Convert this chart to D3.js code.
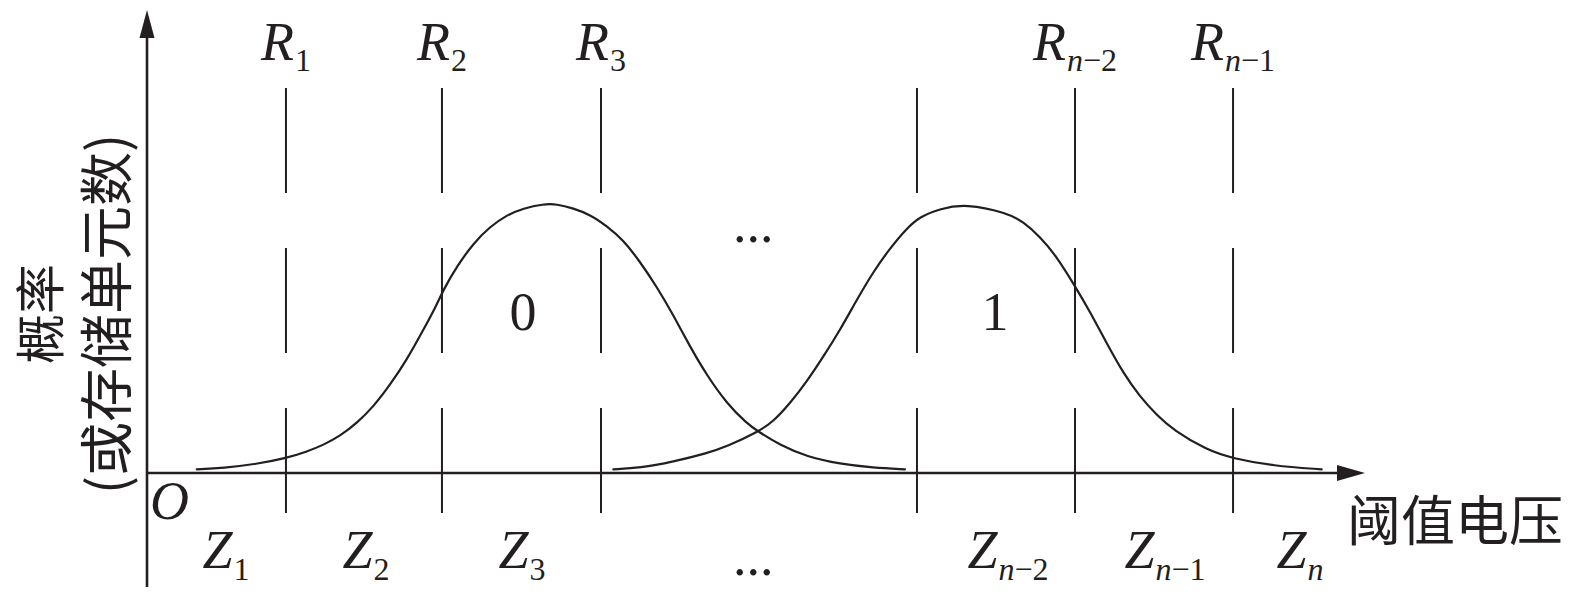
<!DOCTYPE html>
<html>
<head>
<meta charset="utf-8">
<script src="https://cdn.jsdelivr.net/npm/d3@7/dist/d3.min.js"></script>
<style>
  html, body { margin: 0; padding: 0; background: #fff; }
  svg { display: block; }
</style>
</head>
<body>
<svg id="chart" width="1575" height="602"></svg>
<script>
// ---------------- DATA ----------------
// Read-threshold boundaries (threshold-voltage units)
const boundaries      = [1.369, 2.906, 4.473, 7.586, 9.143, 10.700];
const boundarySubs    = ["1", "2", "3", "", "n−2", "n−1"];
// Zone label centres
const zoneCenters     = [0.778, 2.158, 3.695, 8.483, 10.030, 11.360];
const zoneSubs        = ["1", "2", "3", "n−2", "n−1", "n"];
// State distributions
const stateLabels     = ["0", "1"];
const stateLabelX     = [3.704, 8.355];
const curve0V = [0.490, 0.752, 1.081, 1.367, 1.573, 1.737, 1.901, 2.066, 2.230, 2.394, 2.559, 2.722, 2.854, 2.919, 3.051, 3.215, 3.379, 3.544, 3.708, 3.904, 4.036, 4.200, 4.365, 4.529, 4.693, 4.857, 5.022, 5.185, 5.350, 5.514, 5.711, 5.908, 6.023, 6.236, 6.500, 6.828, 7.156, 7.468];
const curve0P = [0.0137, 0.0186, 0.0334, 0.0546, 0.0791, 0.1040, 0.1374, 0.1846, 0.2463, 0.3269, 0.4198, 0.5312, 0.6241, 0.6798, 0.7664, 0.8533, 0.9149, 0.9584, 0.9833, 0.9993, 0.9993, 0.9833, 0.9600, 0.9180, 0.8655, 0.7849, 0.6921, 0.5869, 0.4692, 0.3640, 0.2589, 0.1846, 0.1534, 0.1040, 0.0606, 0.0334, 0.0197, 0.0137];
const curve1V = [4.594, 4.857, 5.185, 5.514, 5.711, 6.023, 6.170, 6.335, 6.500, 6.663, 6.828, 6.992, 7.156, 7.320, 7.485, 7.616, 7.813, 8.069, 8.470, 8.633, 8.798, 8.963, 9.126, 9.291, 9.455, 9.619, 9.783, 9.948, 10.111, 10.440, 10.693, 11.097, 11.573];
const curve1P = [0.0137, 0.0186, 0.0420, 0.0732, 0.0977, 0.1534, 0.1906, 0.2589, 0.3392, 0.4320, 0.5312, 0.6426, 0.7478, 0.8347, 0.9090, 0.9521, 0.9820, 1.0000, 0.9669, 0.9335, 0.8778, 0.8035, 0.7047, 0.5992, 0.4818, 0.3704, 0.2834, 0.2155, 0.1597, 0.0854, 0.0546, 0.0260, 0.0137];
const ellipsisX       = [5.973];
const xAxisTitle      = "阈值电压";
const yAxisTitle      = ["概率", "(或存储单元数)"];
const originLabel     = "O";

// ---------------- LAYOUT ----------------
const INK = "#231f20";
const SERIF = "'Liberation Serif', 'Times New Roman', serif";
const CJK = "'Noto Sans CJK SC', 'Noto Sans', sans-serif";

const x = d3.scaleLinear().domain([0, 12]).range([147, 1365]);
const y = d3.scaleLinear().domain([0, 1.72]).range([473, 10]);

const svg = d3.select("#chart");

// dashed boundary lines
svg.append("g").selectAll("line").data(boundaries).join("line")
  .attr("x1", d => x(d)).attr("x2", d => x(d))
  .attr("y1", 88).attr("y2", 513)
  .attr("stroke", INK).attr("stroke-width", 2)
  .attr("stroke-dasharray", "105,55");

// curves
const line = d3.line()
  .x(d => x(d[0])).y(d => y(d[1]))
  .curve(d3.curveBasis);
[[curve0V, curve0P], [curve1V, curve1P]].forEach(([vs, ps]) => {
  svg.append("path")
    .datum(vs.map((v, i) => [v, ps[i]]))
    .attr("d", line)
    .attr("fill", "none")
    .attr("stroke", INK)
    .attr("stroke-width", 2.2)
    .attr("stroke-linecap", "round");
});

// axes
const x0 = x(0), y0 = y(0);
const yTop = y(1.72), yBot = 587, xEnd = x(12);
svg.append("line").attr("x1", x0).attr("x2", x0).attr("y1", yBot).attr("y2", yTop + 20)
  .attr("stroke", INK).attr("stroke-width", 2.6);
svg.append("path").attr("d", `M${x0},${yTop} L${x0 - 7.5},${yTop + 28} L${x0 + 7.5},${yTop + 28} Z`)
  .attr("fill", INK);
svg.append("line").attr("x1", x0).attr("x2", xEnd - 20).attr("y1", y0).attr("y2", y0)
  .attr("stroke", INK).attr("stroke-width", 2.6);
svg.append("path").attr("d", `M${xEnd},${y0} L${xEnd - 28},${y0 - 8} L${xEnd - 28},${y0 + 8} Z`)
  .attr("fill", INK);

// subscripted italic label helper
function symLabel(g, main, sub, cx, baseY, subDy) {
  const t = g.append("text")
    .attr("x", cx).attr("y", baseY)
    .attr("text-anchor", "middle")
    .attr("font-family", SERIF).attr("fill", INK);
  t.append("tspan").attr("font-size", 54).attr("font-style", "italic").text(main);
  if (sub) {
    let first = true;
    const parts = sub.startsWith("n") ? [["n", true], [sub.slice(1), false]] : [[sub, false]];
    parts.forEach(([s, it]) => {
      if (!s) return;
      const ts = t.append("tspan").attr("font-size", 32).attr("font-style", it ? "italic" : "normal").text(s);
      if (first) { ts.attr("dy", subDy); ts.attr("dx", 1); first = false; }
    });
  }
}

const gLab = svg.append("g");
boundaries.forEach((b, i) => {
  if (boundarySubs[i]) symLabel(gLab, "R", boundarySubs[i], x(b), 60, 11);
});
zoneCenters.forEach((c, i) => symLabel(gLab, "Z", zoneSubs[i], x(c), 568, 12));

// state labels
gLab.selectAll(".state").data(stateLabels).join("text")
  .attr("class", "state")
  .attr("x", (d, i) => x(stateLabelX[i])).attr("y", 330)
  .attr("text-anchor", "middle")
  .attr("font-family", SERIF).attr("font-size", 54).attr("fill", INK)
  .text(d => d);

// ellipses
[242, 575].forEach(by => {
  gLab.append("text").attr("x", x(ellipsisX[0])).attr("y", by)
    .attr("text-anchor", "middle").attr("font-family", SERIF)
    .attr("font-size", 54).attr("fill", INK).text("...");
});

// origin
gLab.append("text").attr("x", x0 + 3).attr("y", 519)
  .attr("font-family", SERIF).attr("font-style", "italic")
  .attr("font-size", 54).attr("fill", INK).text(originLabel);

// x axis title
gLab.append("text").attr("x", 1347).attr("y", 517)
  .attr("dominant-baseline", "central")
  .attr("font-family", CJK).attr("font-size", 54).attr("fill", INK)
  .text(xAxisTitle);

// y axis title (rotated, two lines)
[37, 103].forEach((cx, i) => {
  gLab.append("text")
    .attr("transform", `translate(${cx},314) rotate(-90)`)
    .attr("text-anchor", "middle").attr("dominant-baseline", "central")
    .attr("font-family", CJK).attr("font-size", i === 0 ? 50 : 54).attr("fill", INK)
    .text(yAxisTitle[i]);
});
</script>
</body>
</html>
